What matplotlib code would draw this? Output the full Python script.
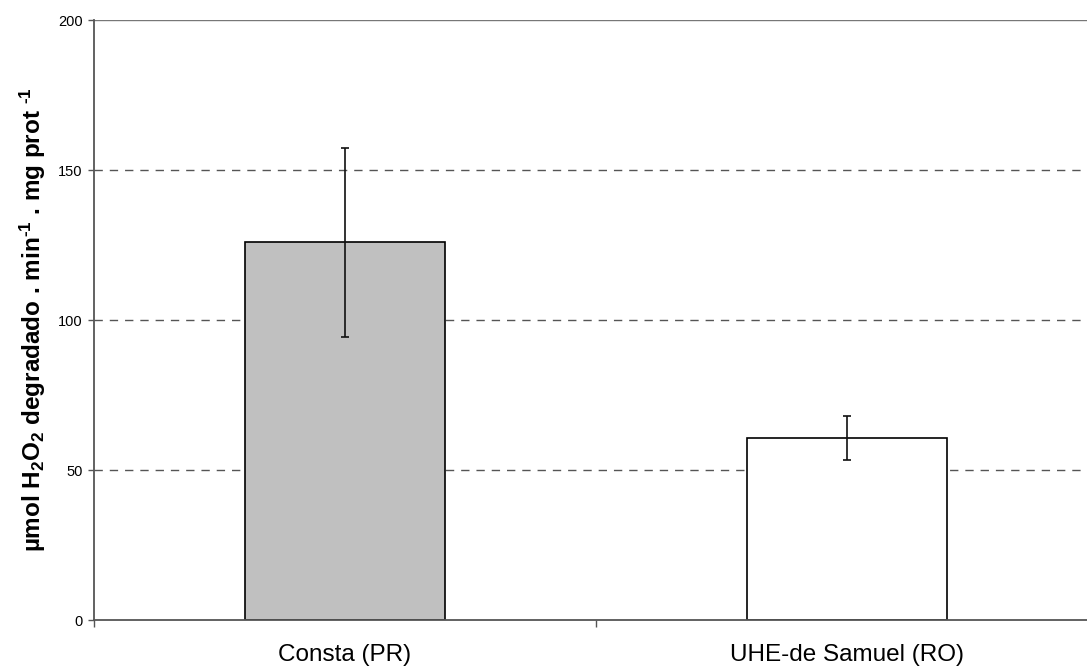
import matplotlib
matplotlib.use("Agg")
import matplotlib.pyplot as plt

plt.rcParams['font.family'] = ['Liberation Sans', 'DejaVu Sans']
plt.rcParams['mathtext.fontset'] = 'custom'
plt.rcParams['mathtext.rm'] = 'Liberation Sans:bold'
plt.rcParams['mathtext.bf'] = 'Liberation Sans:bold'
plt.rcParams['mathtext.it'] = 'Liberation Sans:bold'
plt.rcParams['mathtext.default'] = 'bf'

categories = ["Consta (PR)", "UHE-de Samuel (RO)"]
values = [126.0, 60.6]
err_low = [94.4, 53.3]
err_high = [157.4, 68.1]
bar_colors = ["#c0c0c0", "#ffffff"]
yticks = [0, 50, 100, 150, 200]

W, H = 1087, 668
fig = plt.figure(figsize=(W / 100, H / 100), dpi=100)
ax = fig.add_axes([94 / W, 1 - 620 / H, 1004 / W, 600 / H])

x = list(range(len(categories)))
yerr = [[v - lo for v, lo in zip(values, err_low)],
        [hi - v for v, hi in zip(values, err_high)]]

ax.set_ylim(0, 200)
ax.set_xlim(-0.5, len(categories) - 0.5)
for y in yticks[1:-1]:
    ax.axhline(y, color="#555555", lw=1, ls=(0, (6, 5)), zorder=0)
ax.axhline(200, color="#777777", lw=1, zorder=0)

ax.bar(x, values, width=0.4, color=bar_colors, edgecolor="black", linewidth=1.2, zorder=2)
ax.errorbar(x, values, yerr=yerr, fmt="none", ecolor="#111111", elinewidth=1.2,
            capsize=3.2, capthick=1.2, zorder=3)

for s in ["top", "right"]:
    ax.spines[s].set_visible(False)
for s in ["left", "bottom"]:
    ax.spines[s].set_color("#555555")
    ax.spines[s].set_linewidth(1.3)

ax.set_yticks(yticks)
ax.set_yticklabels([str(t) for t in yticks], fontsize=10.5)
ax.tick_params(axis="y", direction="out", length=4.3, width=1, color="#555555", pad=4)

ax.set_xticks(x)
ax.set_xticklabels(categories, fontsize=17.5)
ax.tick_params(axis="x", length=0, pad=17.5)
ax.set_xticks([-0.5, 0.5, 1.5], minor=True)
ax.tick_params(axis="x", which="minor", direction="out", length=5, width=1, color="#555555")

fig.text(33 / W, 1 - 320 / H,
         r"µmol H$_2$O$_2$ degradado . min$^{\text{-}1}$ . mg prot $^{\text{-}1}$",
         fontsize=17.5, fontweight="bold", rotation=90, ha="center", va="center")

fig.savefig("out.png", dpi=100)
